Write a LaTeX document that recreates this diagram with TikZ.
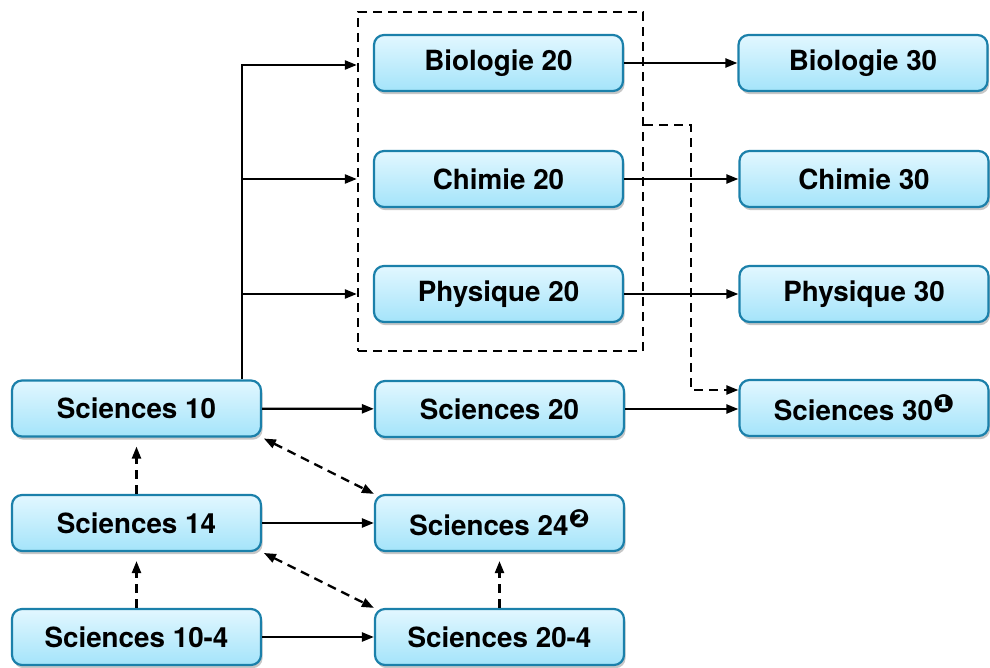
\documentclass[tikz,border=0pt]{standalone}
\usepackage{fontspec}
\setmainfont{TeX Gyre Heros}
\newfontfamily\dejavu{DejaVu Sans}
\usetikzlibrary{arrows.meta,shadows}
\definecolor{boxborder}{HTML}{1B80AA}
\definecolor{boxtop}{HTML}{E2F7FF}
\definecolor{boxbot}{HTML}{A4E4FA}
\newcommand{\fnmark}[1]{\raisebox{0.3em}{\fontsize{12.5}{13}\selectfont\dejavu #1}}
\begin{document}
\begin{tikzpicture}[x=0.5pt,y=-0.5pt,
 course/.style={draw=boxborder, line width=1.1pt, rounded corners=5pt, top color=boxtop, bottom color=boxbot,
   minimum width=124.5pt, minimum height=28pt, inner sep=0pt,
   font=\fontsize{13.9}{16}\selectfont\bfseries,
   drop shadow={shadow xshift=0.8pt, shadow yshift=-1.6pt, opacity=0.22, fill=black}},
 tip/.tip={Triangle[length=6pt,width=4.5pt]},
 arr/.style={line width=1.15pt, -tip},
 darr/.style={arr, dash pattern=on 4.5pt off 3pt},
 ddarr/.style={line width=1.15pt, dash pattern=on 4.5pt off 3pt, tip-tip},
 grpbox/.style={draw, line width=1.15pt, dash pattern=on 4.5pt off 3pt, inner sep=0pt, minimum width=142.5pt, minimum height=169.5pt}]
\useasboundingbox (0,0) rectangle (990,668);

\node[grpbox] (grp) at (500.5,181.5) {};

\node[course] (b20) at (498.5,63) {Biologie 20};
\node[course] (c20) at (498.5,179) {Chimie 20};
\node[course] (p20) at (498.5,294) {Physique 20};
\node[course] (b30) at (863,63) {Biologie 30};
\node[course] (c30) at (864,179) {Chimie 30};
\node[course] (p30) at (864,294) {Physique 30};
\node[course] (s30) at (864,408) {Sciences 30\fnmark{❶}};
\node[course] (s10) at (136.5,408.5) {Sciences 10};
\node[course] (s20) at (499.5,409) {Sciences 20};
\node[course] (s14) at (136.5,523) {Sciences 14};
\node[course] (s24) at (499.5,523) {Sciences 24\fnmark{❷}};
\node[course] (s104) at (136.5,637) {Sciences 10-4};
\node[course] (s204) at (499.5,637) {Sciences 20-4};

\coordinate (br) at (242,65);
\draw[arr] (br |- s10.north) -- (br) -- (br -| grp.west);
\draw[arr] (br |- c20) -- (c20 -| grp.west);
\draw[arr] (br |- p20) -- (p20 -| grp.west);

\draw[arr] (b20) -- (b30);
\draw[arr] (c20) -- (c30);
\draw[arr] (p20) -- (p30);

\coordinate (dk) at (691,125);
\coordinate (s30a) at ([yshift=9pt]s30.west);
\draw[darr] (grp.east |- dk) -- (dk) -- (dk |- s30a) -- (s30a);

\draw[arr] (s20.east) -- (s20.east -| s30.west);
\draw[arr] (s10) -- (s20);
\draw[arr] (s14) -- (s24);
\draw[arr] (s104) -- (s204);

\draw[darr, shorten >=4.5pt] (s14.north) -- (s10.south);
\draw[darr, shorten >=4.5pt] (s104.north) -- (s14.south);
\draw[darr, shorten >=4.5pt] (s204.north) -- (s24.south);

\draw[ddarr, shorten <=1pt] (s10.south east) -- (s24.north west);
\draw[ddarr, shorten <=1pt] (s14.south east) -- (s204.north west);
\end{tikzpicture}
\end{document}
